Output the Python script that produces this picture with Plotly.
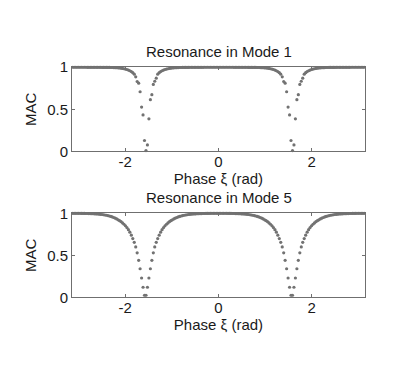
import plotly.graph_objects as go

phase = [
    -3.126, -3.094, -3.063, -3.032, -3.000, -2.969, -2.937, -2.906, -2.874, -2.843,
    -2.812, -2.780, -2.749, -2.717, -2.686, -2.655, -2.623, -2.592, -2.560, -2.529,
    -2.497, -2.466, -2.435, -2.403, -2.372, -2.340, -2.309, -2.278, -2.246, -2.215,
    -2.183, -2.152, -2.121, -2.089, -2.058, -2.026, -1.995, -1.964, -1.932, -1.901,
    -1.869, -1.838, -1.806, -1.775, -1.744, -1.712, -1.681, -1.649, -1.618, -1.587,
    -1.555, -1.524, -1.492, -1.461, -1.429, -1.398, -1.367, -1.335, -1.304, -1.272,
    -1.241, -1.210, -1.178, -1.147, -1.115, -1.084, -1.052, -1.021, -0.990, -0.958,
    -0.927, -0.895, -0.864, -0.833, -0.801, -0.770, -0.738, -0.707, -0.675, -0.644,
    -0.613, -0.581, -0.550, -0.518, -0.487, -0.456, -0.424, -0.393, -0.361, -0.330,
    -0.298, -0.267, -0.236, -0.204, -0.173, -0.141, -0.110, -0.079, -0.047, -0.016,
    0.016, 0.047, 0.079, 0.110, 0.141, 0.173, 0.204, 0.236, 0.267, 0.298,
    0.330, 0.361, 0.393, 0.424, 0.456, 0.487, 0.518, 0.550, 0.581, 0.613,
    0.644, 0.675, 0.707, 0.738, 0.770, 0.801, 0.833, 0.864, 0.895, 0.927,
    0.958, 0.990, 1.021, 1.052, 1.084, 1.115, 1.147, 1.178, 1.210, 1.241,
    1.272, 1.304, 1.335, 1.367, 1.398, 1.429, 1.461, 1.492, 1.524, 1.555,
    1.587, 1.618, 1.649, 1.681, 1.712, 1.744, 1.775, 1.806, 1.838, 1.869,
    1.901, 1.932, 1.964, 1.995, 2.026, 2.058, 2.089, 2.121, 2.152, 2.183,
    2.215, 2.246, 2.278, 2.309, 2.340, 2.372, 2.403, 2.435, 2.466, 2.497,
    2.529, 2.560, 2.592, 2.623, 2.655, 2.686, 2.717, 2.749, 2.780, 2.812,
    2.843, 2.874, 2.906, 2.937, 2.969, 3.000, 3.032, 3.063, 3.094, 3.126,
]

mac_mode1 = [
    1.0, 1.0, 1.0, 1.0, 1.0, 1.0, 1.0, 1.0, 1.0, 1.0,
    0.999, 0.999, 0.999, 0.999, 0.999, 0.999, 0.999, 0.999, 0.999, 0.999,
    0.998, 0.998, 0.998, 0.998, 0.998, 0.998, 0.997, 0.997, 0.996, 0.995,
    0.994, 0.993, 0.991, 0.989, 0.986, 0.982, 0.978, 0.973, 0.966, 0.958,
    0.948, 0.935, 0.917, 0.886, 0.830, 0.810, 0.708, 0.526, 0.432, 0.128,
    0.008, 0.076, 0.386, 0.614, 0.674, 0.795, 0.833, 0.870, 0.917, 0.935,
    0.948, 0.958, 0.966, 0.973, 0.978, 0.982, 0.986, 0.989, 0.991, 0.993,
    0.994, 0.995, 0.996, 0.997, 0.997, 0.998, 0.998, 0.998, 0.998, 0.998,
    0.999, 0.999, 0.999, 0.999, 0.999, 0.999, 0.999, 0.999, 0.999, 0.999,
    1.0, 1.0, 1.0, 1.0, 1.0, 1.0, 1.0, 1.0, 1.0, 1.0,
    1.0, 1.0, 1.0, 1.0, 1.0, 1.0, 1.0, 1.0, 1.0, 1.0,
    0.999, 0.999, 0.999, 0.999, 0.999, 0.999, 0.999, 0.999, 0.999, 0.999,
    0.998, 0.998, 0.998, 0.998, 0.998, 0.998, 0.997, 0.997, 0.996, 0.995,
    0.994, 0.993, 0.991, 0.989, 0.986, 0.982, 0.978, 0.973, 0.966, 0.958,
    0.948, 0.935, 0.917, 0.886, 0.830, 0.810, 0.708, 0.526, 0.432, 0.128,
    0.008, 0.076, 0.386, 0.614, 0.674, 0.795, 0.833, 0.870, 0.917, 0.935,
    0.948, 0.958, 0.966, 0.973, 0.978, 0.982, 0.986, 0.989, 0.991, 0.993,
    0.994, 0.995, 0.996, 0.997, 0.997, 0.998, 0.998, 0.998, 0.998, 0.998,
    0.999, 0.999, 0.999, 0.999, 0.999, 0.999, 0.999, 0.999, 0.999, 0.999,
    1.0, 1.0, 1.0, 1.0, 1.0, 1.0, 1.0, 1.0, 1.0, 1.0,
]

mac_mode5 = [
    1.0, 1.0, 1.0, 1.0, 1.0, 1.0, 0.999, 0.999, 0.999, 0.998,
    0.998, 0.997, 0.997, 0.996, 0.995, 0.994, 0.993, 0.992, 0.990, 0.988,
    0.986, 0.983, 0.980, 0.977, 0.973, 0.968, 0.963, 0.957, 0.950, 0.942,
    0.933, 0.923, 0.912, 0.900, 0.886, 0.870, 0.852, 0.830, 0.805, 0.775,
    0.740, 0.700, 0.655, 0.600, 0.530, 0.440, 0.340, 0.230, 0.120, 0.025,
    0.025, 0.120, 0.230, 0.340, 0.440, 0.530, 0.600, 0.655, 0.700, 0.740,
    0.775, 0.805, 0.830, 0.852, 0.870, 0.886, 0.900, 0.912, 0.923, 0.933,
    0.942, 0.950, 0.957, 0.963, 0.968, 0.973, 0.977, 0.980, 0.983, 0.986,
    0.988, 0.990, 0.992, 0.993, 0.994, 0.995, 0.996, 0.997, 0.997, 0.998,
    0.998, 0.999, 0.999, 0.999, 1.0, 1.0, 1.0, 1.0, 1.0, 1.0,
    1.0, 1.0, 1.0, 1.0, 1.0, 1.0, 0.999, 0.999, 0.999, 0.998,
    0.998, 0.997, 0.997, 0.996, 0.995, 0.994, 0.993, 0.992, 0.990, 0.988,
    0.986, 0.983, 0.980, 0.977, 0.973, 0.968, 0.963, 0.957, 0.950, 0.942,
    0.933, 0.923, 0.912, 0.900, 0.886, 0.870, 0.852, 0.830, 0.805, 0.775,
    0.740, 0.700, 0.655, 0.600, 0.530, 0.440, 0.340, 0.230, 0.120, 0.025,
    0.025, 0.120, 0.230, 0.340, 0.440, 0.530, 0.600, 0.655, 0.700, 0.740,
    0.775, 0.805, 0.830, 0.852, 0.870, 0.886, 0.900, 0.912, 0.923, 0.933,
    0.942, 0.950, 0.957, 0.963, 0.968, 0.973, 0.977, 0.980, 0.983, 0.986,
    0.988, 0.990, 0.992, 0.993, 0.994, 0.995, 0.996, 0.997, 0.997, 0.998,
    0.998, 0.999, 0.999, 0.999, 1.0, 1.0, 1.0, 1.0, 1.0, 1.0,
]

titles = ["Resonance in Mode 1", "Resonance in Mode 5"]
x_tickvals = [-2, 0, 2]
y_tickvals = [0, 0.5, 1]
y_ticktext = ["0", "0.5", "1"]

W, H = 418, 376
FONT = "Liberation Sans, Arial, sans-serif"
TXT = "#1a1a1a"
AXC = "#6f6f6f"
DOT = "#727272"

# pixel layout of the two axes boxes
x_left, x_right = 72, 365
boxes = [(61, 149), (214, 302)]  # (top, bottom) in pixels

fig = go.Figure()
series = [mac_mode1, mac_mode5]
for i, mac in enumerate(series):
    ax = "" if i == 0 else str(i + 1)
    fig.add_trace(go.Scatter(
        x=phase, y=mac, mode="markers",
        marker=dict(size=3.2, color=DOT, line=dict(width=0)),
        xaxis="x" + ax, yaxis="y" + ax, cliponaxis=False, showlegend=False,
        hoverinfo="skip",
    ))

axis_common = dict(
    showline=True, linecolor=AXC, linewidth=1, mirror="ticks",
    ticks="inside", ticklen=3, tickcolor=AXC, tickwidth=1,
    showgrid=False, zeroline=False,
    tickfont=dict(family=FONT, size=15, color=TXT),
)

layout = dict(
    width=W, height=H, margin=dict(l=0, r=0, t=0, b=0),
    paper_bgcolor="white", plot_bgcolor="white",
    font=dict(family=FONT, size=15, color=TXT),
    annotations=[],
)

for i, (top, bot) in enumerate(boxes):
    ax = "" if i == 0 else str(i + 1)
    dom_y = [1 - bot / H, 1 - top / H]
    layout["xaxis" + ax] = dict(
        axis_common, domain=[x_left / W, x_right / W], range=[-3.14159, 3.14159],
        tickvals=x_tickvals, ticktext=[str(v) for v in x_tickvals],
        anchor="y" + ax, ticklabelstandoff=-3,
        title=dict(text="Phase ξ (rad)", font=dict(family=FONT, size=15, color=TXT), standoff=1),
    )
    layout["yaxis" + ax] = dict(
        axis_common, domain=dom_y, range=[0, 1],
        tickvals=y_tickvals, ticktext=y_ticktext, anchor="x" + ax,
        title=dict(text="MAC", font=dict(family=FONT, size=15, color=TXT), standoff=6),
    )
    layout["annotations"].append(dict(
        text=titles[i], xref="paper", yref="paper",
        x=(x_left + x_right) / 2 / W, y=1 - (top - 6) / H,
        xanchor="center", yanchor="bottom", showarrow=False,
        font=dict(family=FONT, size=15, color=TXT),
    ))

fig.update_layout(**layout)
fig.write_html(
    "out.html",
    config={"displayModeBar": False, "staticPlot": True},
    post_script="document.body.style.margin='0';document.body.style.padding='0';",
)
